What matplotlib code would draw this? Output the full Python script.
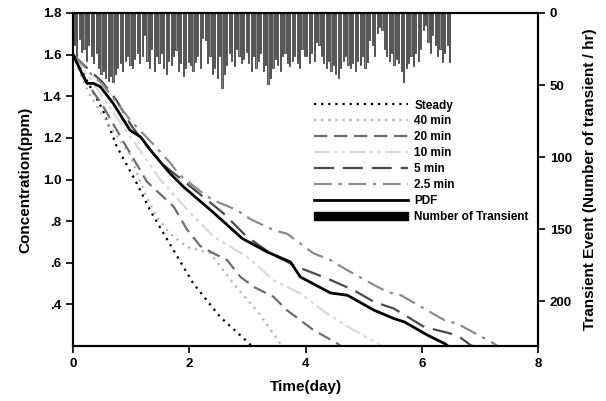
import numpy as np
import matplotlib
matplotlib.use("Agg")
from matplotlib import pyplot as plt
from matplotlib.ticker import FuncFormatter

plt.rcParams['font.family'] = ['Liberation Sans', 'DejaVu Sans']
plt.rcParams['font.weight'] = 'bold'

# concentration curves (day, ppm)
steady_t = [0, 0.25, 0.52, 0.75, 1.1, 1.33, 1.56, 2.07, 2.53, 3.02, 3.07]
steady_c = [1.6, 1.47, 1.33, 1.16, 0.98, 0.85, 0.74, 0.50, 0.34, 0.215, 0.2]

m40_t = [0, 0.18, 0.3, 0.6, 0.98, 1.21, 1.44, 1.67, 1.96, 2.36, 2.76, 3.22, 3.57, 3.6]
m40_c = [1.6, 1.47, 1.40, 1.27, 1.12, 0.95, 0.82, 0.74, 0.676, 0.646, 0.50, 0.35, 0.21, 0.2]

m20_t = [0, 0.25, 0.5, 0.87, 1.27, 1.5, 1.73, 1.96, 2.19, 2.42, 2.65, 2.88, 3.11, 3.45, 3.68, 3.91, 4.14, 4.55, 4.6]
m20_c = [1.6, 1.46, 1.36, 1.18, 0.99, 0.93, 0.87, 0.76, 0.68, 0.645, 0.613, 0.532, 0.484, 0.436, 0.372, 0.324, 0.276, 0.212, 0.2]

m10_t = [0, 0.3, 0.6, 1.0, 1.5, 2.02, 2.42, 2.99, 3.45, 3.91, 4.37, 4.83, 5.24, 5.3]
m10_c = [1.6, 1.48, 1.36, 1.20, 1.0, 0.838, 0.725, 0.63, 0.516, 0.452, 0.356, 0.276, 0.212, 0.2]

m5_t = [0, 0.3, 0.5, 0.75, 1.0, 1.3, 1.6, 1.96, 2.59, 2.99, 3.40, 3.86, 4.37, 4.83, 5.18, 5.52, 6.04, 6.61, 6.84, 6.88]
m5_c = [1.6, 1.52, 1.47, 1.38, 1.26, 1.15, 1.06, 0.98, 0.837, 0.725, 0.645, 0.58, 0.525, 0.468, 0.412, 0.38, 0.292, 0.252, 0.204, 0.2]

m25_t = [0, 0.3, 0.5, 0.75, 1.0, 1.38, 1.67, 1.84, 2.24, 2.42, 2.82, 3.05, 3.45, 3.68, 4.14, 4.43, 4.72, 5.24, 5.41, 5.64, 6.39, 6.61, 7.24, 7.3]
m25_c = [1.6, 1.51, 1.46, 1.37, 1.28, 1.17, 1.08, 1.02, 0.933, 0.90, 0.853, 0.81, 0.757, 0.74, 0.645, 0.613, 0.564, 0.484, 0.46, 0.444, 0.324, 0.308, 0.212, 0.2]

pdf_t = [0, 0.18, 0.24, 0.35, 0.47, 0.69, 0.98, 1.16, 1.38, 1.67, 1.9, 2.40, 2.91, 3.34, 3.74, 3.91, 4.43, 4.72, 5.18, 5.52, 5.7, 6.1, 6.39, 6.45]
pdf_c = [1.6, 1.494, 1.462, 1.462, 1.446, 1.366, 1.237, 1.205, 1.125, 1.029, 0.965, 0.845, 0.717, 0.652, 0.604, 0.532, 0.455, 0.444, 0.372, 0.332, 0.316, 0.252, 0.212, 0.2]

# hourly number of transients
transients = [
    22, 30, 18, 27, 25, 33, 22, 30, 35, 28, 38, 42, 40, 45, 47, 44, 48, 42, 38, 35, 40, 33, 30, 36,
    38, 32, 28, 35, 30, 15, 33, 38, 25, 40, 30, 35, 28, 38, 42, 33, 36, 30, 26, 40, 35, 44, 38, 34,
    36, 40, 34, 30, 38, 17, 19, 35, 30, 42, 38, 45, 30, 52, 42, 36, 28, 33, 37, 25, 30, 35, 32, 27,
    35, 40, 30, 38, 33, 28, 40, 36, 49, 45, 38, 32, 36, 40, 30, 28, 35, 37, 33, 30, 35, 38, 25, 30,
    30, 35, 28, 33, 20, 22, 30, 35, 38, 33, 40, 36, 42, 45, 38, 33, 30, 36, 38, 35, 40, 33, 36, 30,
    38, 34, 19, 22, 30, 14, 10, 12, 25, 30, 33, 28, 36, 32, 35, 40, 48, 38, 35, 30, 37, 28, 33, 25,
    12, 8, 20, 28, 15, 22, 30, 25, 34, 28, 22, 34,
]
hours = np.arange(1, len(transients) + 1) / 24.0 - 0.02

fig = plt.figure(figsize=(6.06, 4.01), dpi=100)
ax = fig.add_axes([0.1205, 0.137, 0.7675, 0.8306])
ax2 = ax.twinx()

ax2.bar(hours, transients, width=0.02, color='#8a8a8a', edgecolor='black', linewidth=0.4)
ax2.set_ylim(231, 0)
ax2.set_yticks([0, 50, 100, 150, 200])

l1, = ax.plot(steady_t, steady_c, color='black', lw=1.6, ls=(0, (1, 2.2)))
l2, = ax.plot(m40_t, m40_c, color='#b4b4b4', lw=1.6, ls=(0, (1, 2.2)))
l3, = ax.plot(m20_t, m20_c, color='#6e6e6e', lw=1.6, ls=(0, (6, 3)))
l4, = ax.plot(m10_t, m10_c, color='#d9d9d9', lw=1.6, ls=(0, (7, 2, 1.5, 2, 1.5, 2)))
l5, = ax.plot(m5_t, m5_c, color='#4a4a4a', lw=1.6, ls=(0, (9, 4)))
l6, = ax.plot(m25_t, m25_c, color='#8c8c8c', lw=1.6, ls=(0, (8, 3, 1.5, 3)))
l7, = ax.plot(pdf_t, pdf_c, color='black', lw=2)

ax.set_zorder(ax2.get_zorder() + 1)
ax.patch.set_visible(False)

ax.set_xlim(0, 8)
ax.set_ylim(0.2, 1.8)
ax.set_xticks([0, 2, 4, 6, 8])
ax.set_yticks([0.4, 0.6, 0.8, 1.0, 1.2, 1.4, 1.6, 1.8])
ax.yaxis.set_major_formatter(FuncFormatter(lambda v, p: f"{v:.1f}".lstrip('0') if v < 1 else f"{v:.1f}"))

for a in (ax, ax2):
    a.tick_params(direction='out', length=5, width=1.2, labelsize=9.5)
    for s in a.spines.values():
        s.set_linewidth(1.5)

ax.set_xlabel("Time(day)", fontsize=11, fontweight='bold', labelpad=7)
ax.set_ylabel("Concentration(ppm)", fontsize=11, fontweight='bold', labelpad=7)
ax2.set_ylabel("Transient Event (Number of transient / hr)", fontsize=11, fontweight='bold', labelpad=8)

bar_handle = plt.Rectangle((0, 0), 1, 1, color='black')
ax.legend([l1, l2, l3, l4, l5, l6, l7, bar_handle],
          ['Steady', '40 min', '20 min', '10 min', '5 min', '2.5 min', 'PDF', 'Number of Transient'],
          loc='upper left', bbox_to_anchor=(0.518, 0.74), frameon=False,
          fontsize=8.5, handlelength=8.0, handletextpad=0.5, labelspacing=0.33,
          borderpad=0, borderaxespad=0)

plt.savefig("out.png", dpi=100)
plt.close()
